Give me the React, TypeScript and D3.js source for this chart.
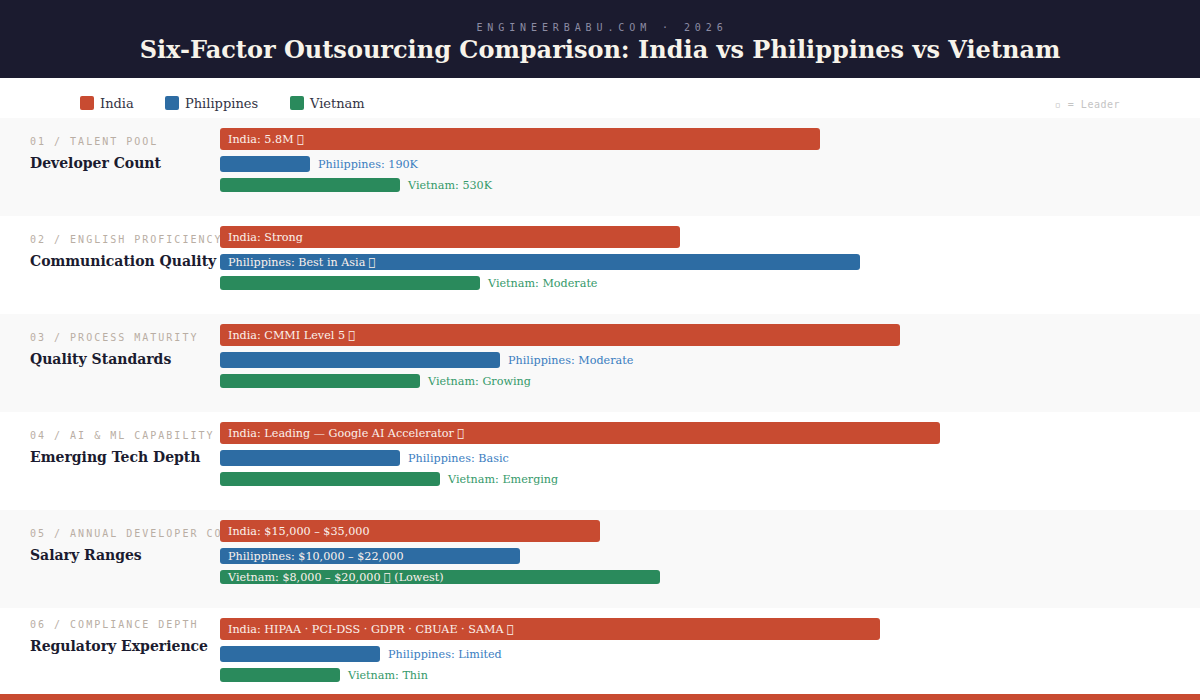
import React from "react";
import * as d3 from "d3";

const series = ["India", "Philippines", "Vietnam"];
const seriesColors = ["#c84b31", "#2d6ca3", "#2a8a5c"];
const outsideTextColors = ["#c84b31", "#3a7dbf", "#35996a"];

const categoryTags = [
  "01 / TALENT POOL",
  "02 / ENGLISH PROFICIENCY",
  "03 / PROCESS MATURITY",
  "04 / AI & ML CAPABILITY",
  "05 / ANNUAL DEVELOPER COST",
  "06 / COMPLIANCE DEPTH",
];
const categories = [
  "Developer Count",
  "Communication Quality",
  "Quality Standards",
  "Emerging Tech Depth",
  "Salary Ranges",
  "Regulatory Experience",
];

const indiaScores = [75, 57.5, 85, 90, 47.5, 82.5];
const philippinesScores = [11.25, 80, 35, 22.5, 37.5, 20];
const vietnamScores = [22.5, 32.5, 25, 27.5, 55, 15];

const STAR = "\uE000";
const LEGEND_STAR = "\u25AB";
const indiaLabels = [
  `India: 5.8M ${STAR}`,
  "India: Strong",
  `India: CMMI Level 5 ${STAR}`,
  `India: Leading — Google AI Accelerator ${STAR}`,
  "India: $15,000 – $35,000",
  `India: HIPAA · PCI-DSS · GDPR · CBUAE · SAMA ${STAR}`,
];
const philippinesLabels = [
  "Philippines: 190K",
  `Philippines: Best in Asia ${STAR}`,
  "Philippines: Moderate",
  "Philippines: Basic",
  "Philippines: $10,000 – $22,000",
  "Philippines: Limited",
];
const vietnamLabels = [
  "Vietnam: 530K",
  "Vietnam: Moderate",
  "Vietnam: Growing",
  "Vietnam: Emerging",
  `Vietnam: $8,000 – $20,000 ${STAR} (Lowest)`,
  "Vietnam: Thin",
];

const W = 1200;
const H = 700;
const FOOTER_Y = 694;
const SERIF = "'DejaVu Serif', serif";
const MONO = "'DejaVu Sans Mono', monospace";

export default function App() {
  const x = d3.scaleLinear().domain([0, 100]).range([220, 1020]);
  const y = d3
    .scaleBand<number>()
    .domain(d3.range(categories.length))
    .range([118, 118 + 98 * categories.length])
    .padding(0);

  const scoreSets = [indiaScores, philippinesScores, vietnamScores];
  const labelSets = [indiaLabels, philippinesLabels, vietnamLabels];
  const barOffsets = [10, 38, 60];
  const barHeights = [22, 16, 14];
  const textOffsets = [25, 50, 71];
  const threshold = 36;

  return (
    <svg
      width={W}
      height={H}
      style={{ position: "absolute", left: 0, top: 0, display: "block" }}
    >
      <rect x={0} y={0} width={W} height={H} fill="#ffffff" />
      {/* header */}
      <rect x={0} y={0} width={W} height={78} fill="#1b1b2f" />
      <text
        x={W / 2 + 2}
        y={31}
        textAnchor="middle"
        fontFamily={MONO}
        fontSize={10}
        letterSpacing={4.9}
        fill="#8c8ca3"
      >
        ENGINEERBABU.COM · 2026
      </text>
      <text
        x={W / 2}
        y={58}
        textAnchor="middle"
        fontFamily={SERIF}
        fontSize={24}
        fontWeight="bold"
        fill="#f7f3ea"
      >
        Six-Factor Outsourcing Comparison: India vs Philippines vs Vietnam
      </text>

      {/* legend */}
      {series.map((s, i) => {
        const lx = [80, 165, 290][i];
        return (
          <g key={s}>
            <rect x={lx} y={96} width={14} height={14} rx={2} fill={seriesColors[i]} />
            <text x={lx + 20} y={108} fontFamily={SERIF} fontSize={13} fill="#333344">
              {s}
            </text>
          </g>
        );
      })}
      <text
        x={1120}
        y={108}
        textAnchor="end"
        fontFamily={MONO}
        fontSize={10}
        letterSpacing={0.5}
        fill="#c4c4c4"
      >
        {`${LEGEND_STAR} = Leader`}
      </text>

      {/* rows */}
      {categories.map((c, i) => {
        const top = y(i) as number;
        const visible = Math.min(top + y.bandwidth(), FOOTER_Y) - top;
        const shift = (y.bandwidth() - visible) * 0.6;
        return (
          <g key={c}>
            <rect
              x={0}
              y={top}
              width={W}
              height={y.bandwidth()}
              fill={i % 2 === 0 ? "#f9f9f9" : "#ffffff"}
            />
            <text
              x={30}
              y={top + 27 - shift}
              fontFamily={MONO}
              fontSize={10}
              letterSpacing={2}
              fill="#b9aea4"
            >
              {categoryTags[i]}
            </text>
            <text
              x={30}
              y={top + 50 - shift}
              fontFamily={SERIF}
              fontSize={14}
              fontWeight="bold"
              fill="#1b1b2f"
            >
              {c}
            </text>
            {scoreSets.map((scores, k) => {
              const v = scores[i];
              const x0 = x(0);
              const x1 = x(v);
              const inside = v > threshold || k === 0;
              return (
                <g key={k}>
                  <rect
                    x={x0}
                    y={top + barOffsets[k]}
                    width={x1 - x0}
                    height={barHeights[k]}
                    rx={3}
                    fill={seriesColors[k]}
                  />
                  <text
                    x={inside ? x0 + 8 : x1 + 8}
                    y={top + textOffsets[k]}
                    fontFamily={SERIF}
                    fontSize={11.2}
                    fill={inside ? "#fbf1ec" : outsideTextColors[k]}
                  >
                    {labelSets[k][i]}
                  </text>
                </g>
              );
            })}
          </g>
        );
      })}

      <rect x={0} y={FOOTER_Y} width={W} height={H - FOOTER_Y} fill="#c84b31" />
    </svg>
  );
}
